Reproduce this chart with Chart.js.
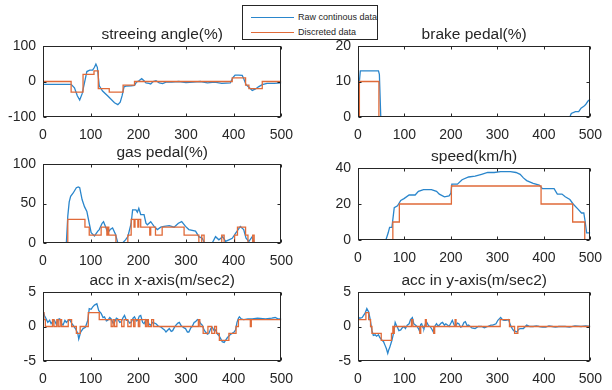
<!DOCTYPE html>
<html>
<head>
<meta charset="utf-8">
<script src="https://cdn.jsdelivr.net/npm/chart.js@4"></script>
<style>
  body { margin: 0; background: #fff; }
  #fig { position: relative; width: 612px; height: 390px; overflow: hidden; font-family: "Liberation Sans", Arial, sans-serif; }
  #fig canvas { position: absolute; }
  #legend { position: absolute; left: 242px; top: 5px; width: 134px; height: 33px; border: 1px solid #262626; background: #fff; z-index: 5; }
  #legend .row { position: absolute; left: 8px; height: 12px; font-size: 9px; color: #262626; line-height: 12px; white-space: nowrap; }
  #legend .swatch { display: inline-block; width: 43px; height: 0; border-top: 1px solid; vertical-align: middle; margin-right: 4px; }
</style>
</head>
<body>
<div id="fig">
  <div id="legend">
    <div class="row" style="top:5px"><span class="swatch" style="border-color:#2a86cc"></span>Raw continous data</div>
    <div class="row" style="top:20px"><span class="swatch" style="border-color:#e06a38"></span>Discreted data</div>
  </div>
  <canvas id="c1" width="303" height="117" style="left:0px;top:26px"></canvas>
  <canvas id="c2" width="297" height="117" style="left:315px;top:26px"></canvas>
  <canvas id="c3" width="303" height="125" style="left:0px;top:144px"></canvas>
  <canvas id="c4" width="297" height="118" style="left:315px;top:148px"></canvas>
  <canvas id="c5" width="303" height="115" style="left:0px;top:272px"></canvas>
  <canvas id="c6" width="297" height="115" style="left:315px;top:272px"></canvas>
</div>
<script>
// x ticks shared by all panels
const xTicks = [0, 100, 200, 300, 400, 500];

// steering angle
const steerRawX = [0, 30, 59, 66, 72, 77, 82, 87, 92, 98, 104, 108, 111, 114, 118, 125, 136, 150, 157, 162, 166, 170, 174, 185, 192, 196, 202, 207, 212, 216, 222, 226, 231, 237, 244, 251, 258, 270, 285, 300, 315, 330, 345, 360, 375, 393, 398, 403, 410, 418, 422, 426, 432, 439, 446, 452, 460, 470, 485, 500];
const steerRawY = [-8, -8, -8, -18, -40, -52, -35, -4, 28, 32, 32, 40, 49, 40, -12, -27, -41, -60, -65, -58, -40, -15, -13, -12, -11, -2, 3, 8, 2, -4, -5, -7, 0, 2, -4, -6, -2, -2, 0, -3, -2, 0, -4, -2, -5, -4, 10, 18, 18, 17, 5, -9, -16, -25, -21, -15, -9, -5, -5, -4];
const steerDiscX = [0, 59, 84, 107, 116, 139, 168, 192, 397, 425, 432, 460, 500];
const steerDiscY = [0, -30, 20, 30, -20, -30, -10, 0, 10, -10, -20, 0, 0];

// brake pedal
const brakeRawX = [0, 3, 5, 44, 46, 49, 456, 459, 468, 475, 480, 486, 490, 495, 500];
const brakeRawY = [0, 10, 13, 13, 12, 0, 0, 1, 1.5, 1.5, 2.5, 3, 3.5, 4.5, 5];
const brakeDiscX = [0, 3, 45, 500];
const brakeDiscY = [0, 10, 0, 0];

// gas pedal
const gasRawX = [0, 49, 52, 55, 58, 63, 70, 74, 77, 82, 87, 92, 97, 101, 108, 115, 118, 124, 127, 131, 136, 141, 146, 152, 157, 167, 173, 178, 185, 188, 195, 198, 201, 205, 212, 216, 219, 226, 233, 240, 247, 254, 265, 275, 284, 291, 299, 306, 320, 327, 334, 339, 355, 362, 369, 377, 383, 390, 397, 405, 414, 421, 426, 432, 439, 443, 500];
const gasRawY = [0, 0, 34, 52, 59, 63, 70, 71, 70, 55, 46, 40, 25, 13, 9, 15, 17, 25, 27, 21, 13, 17, 19, 11, 0, 0, 4, 8, 25, 42, 42, 39, 44, 36, 36, 25, 23, 27, 21, 17, 20, 21, 22, 20, 25, 27, 21, 17, 15, 8, 6, 0, 0, 8, 4, 8, 2, 4, 6, 13, 21, 17, 6, 2, 8, 0, 0];
const gasDiscX = [0, 52, 88, 97, 122, 134, 136, 138, 153, 178, 185, 191, 193, 199, 201, 205, 224, 226, 236, 250, 296, 327, 333, 338, 375, 380, 402, 408, 425, 430, 440, 443, 500];
const gasDiscY = [0, 30, 20, 10, 20, 10, 20, 10, 0, 10, 30, 20, 30, 20, 30, 20, 10, 20, 10, 20, 10, 0, 10, 0, 10, 0, 10, 20, 10, 0, 10, 0, 0];

// speed
const speedRawX = [0, 60, 65, 68, 73, 78, 85, 92, 99, 110, 123, 130, 141, 158, 169, 175, 186, 196, 200, 202, 214, 224, 238, 252, 266, 279, 293, 307, 328, 340, 349, 356, 363, 377, 390, 397, 422, 429, 439, 446, 456, 463, 474, 481, 486, 489, 492, 500];
const speedRawY = [0, 0, 4, 7, 7, 18, 19, 22, 23, 25, 25, 27, 28, 28, 27, 25.5, 24, 24.5, 26, 31, 31, 33.5, 35, 35.5, 36.5, 37.5, 37.5, 38, 38, 37.5, 36.5, 34.5, 33, 31.5, 30.5, 28.5, 28.5, 25.5, 25.5, 24, 22.5, 20, 17, 15, 15, 10, 4, 4];
const speedDiscX = [0, 75, 89, 201, 394, 462, 488, 500];
const speedDiscY = [0, 10, 20, 30, 20, 10, 0, 0];

// acc in x-axis
const accxRawX = [0, 3, 6, 10, 14, 17, 21, 24, 28, 31, 35, 38, 42, 46, 49, 53, 56, 60, 63, 68, 73, 75, 79, 84, 89, 94, 97, 101, 104, 108, 113, 117, 122, 126, 129, 133, 136, 140, 143, 147, 150, 154, 157, 161, 164, 168, 171, 175, 178, 182, 185, 189, 192, 196, 199, 202, 205, 209, 212, 216, 219, 223, 226, 230, 237, 241, 244, 248, 251, 255, 258, 262, 265, 269, 272, 276, 279, 283, 286, 290, 292, 296, 299, 303, 306, 310, 313, 317, 320, 324, 327, 331, 334, 338, 341, 345, 348, 352, 355, 359, 362, 366, 369, 373, 376, 380, 383, 387, 390, 394, 397, 401, 404, 407, 410, 412, 416, 421, 430, 439, 450, 467, 480, 487, 493, 500];
const accxRawY = [2.3, 1.6, 1.2, 0.6, 0.9, 0.4, 0.8, 0.9, 0.3, 1.0, 1.1, 0.5, 0.2, 0.9, 0.6, 0.9, 1.0, 0.5, 0.2, -0.3, -1.0, -1.8, -0.8, -0.3, -0.1, 0.9, 2.6, 2.5, 2.8, 3.1, 3.3, 2.3, 1.9, 1.3, 1.4, 0.8, 0.9, 1.3, 1.1, 0.5, 0.6, 1.2, 1.1, 0.6, 0.7, 1.3, 1.6, 0.9, 0.9, 0.5, 0.6, 1.2, 1.4, 0.8, 0.9, 1.5, 1.6, 0.6, 0.4, 1.0, 0.9, 0.3, 0.2, 0.6, 0.4, 0.1, 0.0, -0.1, -0.3, -0.5, -0.8, -0.5, -0.3, -0.7, -0.6, -0.1, 0.2, 0.5, 0.6, 0.1, 0.0, -0.2, -0.3, -0.8, -0.8, -0.2, 0.0, 0.6, 0.7, 1.0, 0.9, 0.4, 0.2, -0.5, -0.8, -1.1, -1.0, -0.3, -0.1, -0.6, -0.5, -1.1, -1.3, -1.8, -2.2, -2.3, -2.0, -1.6, -1.4, -1.1, -1.0, -0.8, -0.5, 0.6, 1.2, 1.4, 1.1, 1.0, 1.1, 1.1, 1.2, 1.1, 1.2, 1.3, 1.1, 1.1];
const accxDiscX = [0, 2, 5, 20, 23, 29, 32, 36, 39, 53, 60, 70, 78, 95, 118, 143, 147, 150, 155, 165, 170, 178, 185, 190, 193, 200, 203, 215, 218, 221, 228, 232, 326, 329, 336, 346, 354, 360, 364, 370, 390, 405, 410, 435, 437, 500];
const accxDiscY = [2, 1, 0, 1, 0, 1, 0, 1, 0, 1, 0, -1, 0, 2, 1, 0, 1, 0, 1, 0, 1, 0, 1, 0, 1, 0, 1, 0, 1, 0, 1, 0, 1, 0, -1, 0, -1, 0, -1, -2, -1, 0, 1, 0, 1, 1];

// acc in y-axis
const accyRawX = [0, 4, 9, 12, 15, 19, 23, 26, 30, 33, 37, 40, 44, 47, 52, 55, 58, 61, 64, 66, 68, 73, 77, 80, 83, 85, 88, 92, 95, 99, 102, 106, 110, 113, 117, 120, 124, 127, 130, 132, 135, 137, 140, 142, 145, 148, 152, 155, 159, 162, 165, 169, 172, 175, 179, 182, 186, 189, 193, 196, 200, 203, 207, 210, 214, 217, 221, 224, 228, 231, 235, 238, 245, 252, 259, 266, 272, 279, 286, 290, 297, 301, 304, 307, 311, 314, 318, 324, 328, 332, 335, 339, 342, 346, 349, 356, 363, 370, 377, 384, 390, 397, 404, 411, 418, 425, 432, 446, 455, 467, 480, 490, 500];
const accyRawY = [1.4, 1.2, 1.3, 1.6, 1.9, 2.6, 2.1, 1.1, -0.6, -1.3, -1.2, -1.4, -1.2, -1.6, -2.0, -2.2, -2.7, -3.2, -3.9, -3.4, -3.1, -2.0, -0.8, 0.6, 0.1, -0.1, -0.6, -0.5, -0.2, 0.0, -0.3, 0.2, 0.4, 1.0, 1.3, 0.4, 0.2, 0.0, -0.3, -0.6, 0.3, 0.4, -0.2, -0.3, 0.4, 0.6, 0.1, 0.0, -0.4, -0.8, 0.0, 0.4, 0.1, 0.2, 0.5, 0.6, 0.2, 0.4, 0.2, 0.0, 0.5, 0.9, 0.2, 0.1, 0.5, 0.4, -0.1, 0.0, 0.6, 0.7, 0.1, 0.2, -0.2, -0.3, 0.0, 0.0, -0.2, 0.0, 0.2, 0.2, 0.4, 0.9, 1.1, 1.3, 1.0, 0.9, 0.9, 1.0, 0.2, -0.3, -0.6, -0.7, -0.8, -0.4, -0.3, -0.3, 0.2, 0.0, 0.0, 0.1, 0.0, -0.1, -0.1, 0.1, 0.0, -0.1, 0.0, 0.0, -0.1, 0.1, 0.0, 0.1, 0.0];
const accyDiscX = [0, 17, 23, 27, 30, 50, 72, 75, 76, 78, 115, 118, 133, 135, 145, 147, 163, 165, 209, 211, 306, 326, 337, 344, 500];
const accyDiscY = [1, 2, 1, 0, -1, -2, -1, 0, -1, 0, 1, 0, -1, 0, 1, 0, -1, 0, 1, 0, 1, 0, -1, 0, 0];

const BLUE = '#2a86cc';
const ORANGE = '#e06a38';
const INK = '#262626';
const FONT = '"Liberation Sans", Arial, sans-serif';

function pts(xs, ys) {
  return xs.map((x, i) => ({ x: x, y: ys[i] }));
}

// matlab style box with inward ticks, title centred over the axes
const boxPlugin = {
  id: 'box',
  afterDraw(chart, args, opts) {
    const { ctx, chartArea: a, scales } = chart;
    const L = Math.round(a.left) + 0.5, R = Math.round(a.right) - 0.5;
    const T = Math.round(a.top) + 0.5, B = Math.round(a.bottom) - 0.5;
    ctx.save();
    ctx.strokeStyle = INK;
    ctx.lineWidth = 1;
    ctx.strokeRect(L, T, R - L, B - T);
    ctx.beginPath();
    scales.x.ticks.forEach(t => {
      const px = Math.round(scales.x.getPixelForValue(t.value)) + 0.5;
      ctx.moveTo(px, B); ctx.lineTo(px, B - 3);
      ctx.moveTo(px, T); ctx.lineTo(px, T + 3);
    });
    scales.y.ticks.forEach(t => {
      const py = Math.round(scales.y.getPixelForValue(t.value)) + 0.5;
      ctx.moveTo(L, py); ctx.lineTo(L + 3, py);
      ctx.moveTo(R, py); ctx.lineTo(R - 3, py);
    });
    ctx.stroke();
    ctx.fillStyle = INK;
    ctx.font = '15.5px ' + FONT;
    ctx.textAlign = 'center';
    ctx.textBaseline = 'middle';
    ctx.fillText(opts.title, (a.left + a.right) / 2, a.top - 11);
    ctx.restore();
  }
};

function panel(id, title, rawX, rawY, discX, discY, yMin, yMax, yStep, padRight) {
  const ctx = document.getElementById(id).getContext('2d');
  new Chart(ctx, {
    type: 'line',
    data: {
      datasets: [{
        label: 'Raw continous data',
        data: pts(rawX, rawY),
        borderColor: BLUE,
        borderWidth: 1.3,
        pointRadius: 0,
        order: 2
      }, {
        label: 'Discreted data',
        data: pts(discX, discY),
        borderColor: ORANGE,
        borderWidth: 1.3,
        pointRadius: 0,
        stepped: true,
        order: 1
      }]
    },
    options: {
      responsive: false,
      animation: false,
      devicePixelRatio: 1,
      layout: { padding: { top: 20, right: padRight, bottom: 0, left: 0 } },
      plugins: {
        legend: { display: false },
        tooltip: { enabled: false },
        title: { display: false },
        box: { title: title }
      },
      scales: {
        x: {
          type: 'linear',
          min: 0, max: 500,
          afterBuildTicks: s => { s.ticks = xTicks.map(v => ({ value: v })); },
          grid: { display: false, drawTicks: false },
          border: { display: false },
          ticks: { color: INK, font: { family: FONT, size: 14 }, padding: 10, maxRotation: 0 },
          afterFit: s => { s.height = 26; }
        },
        y: {
          min: yMin, max: yMax,
          ticks: { stepSize: yStep, color: INK, font: { family: FONT, size: 14 }, padding: 7 },
          grid: { display: false, drawTicks: false },
          border: { display: false },
          afterFit: s => { s.width = 43; }
        }
      }
    },
    plugins: [boxPlugin]
  });
}

panel('c1', 'streeing angle(%)', steerRawX, steerRawY, steerDiscX, steerDiscY, -100, 100, 100, 20);
panel('c2', 'brake pedal(%)', brakeRawX, brakeRawY, brakeDiscX, brakeDiscY, 0, 20, 10, 13);
panel('c3', 'gas pedal(%)', gasRawX, gasRawY, gasDiscX, gasDiscY, 0, 100, 50, 20);
panel('c4', 'speed(km/h)', speedRawX, speedRawY, speedDiscX, speedDiscY, 0, 40, 20, 13);
panel('c5', 'acc in x-axis(m/sec2)', accxRawX, accxRawY, accxDiscX, accxDiscY, -5, 5, 5, 20);
panel('c6', 'acc in y-axis(m/sec2)', accyRawX, accyRawY, accyDiscX, accyDiscY, -5, 5, 5, 13);
</script>
</body>
</html>
